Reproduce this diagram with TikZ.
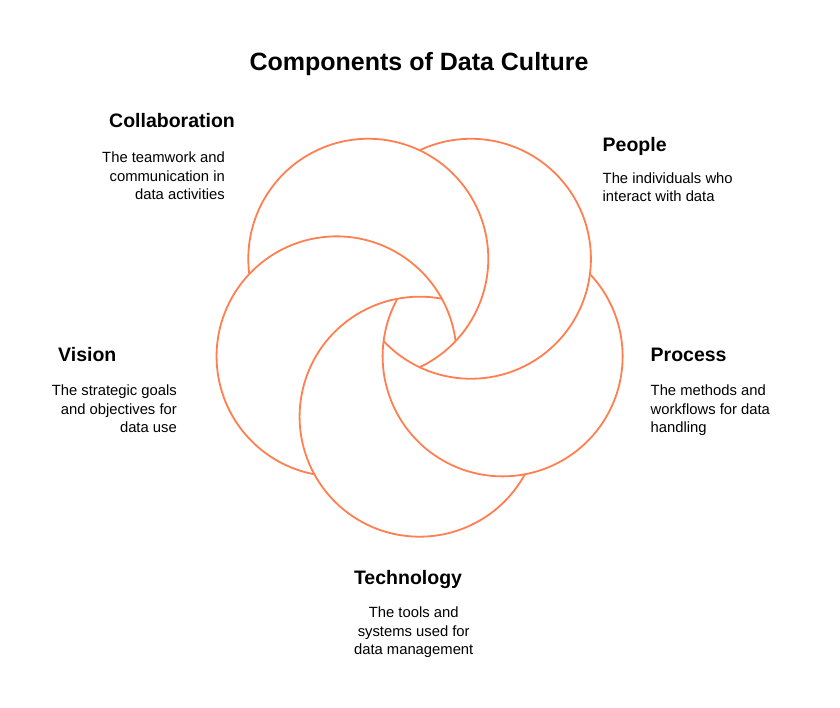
\documentclass[tikz,border=0pt]{standalone}
\usepackage{fontspec}
\setmainfont{Liberation Sans}
\usetikzlibrary{calc}
\definecolor{ringc}{RGB}{255,127,80}
\begin{document}
\begin{tikzpicture}[x=1pt,y=1pt,
  ring/.style={draw=ringc, line width=1.8pt},
  titletext/.style={font=\fontsize{25}{30}\selectfont\bfseries, inner sep=0pt},
  headtext/.style={font=\fontsize{19.5}{24}\selectfont\bfseries, inner sep=0pt},
  bodytext/.style={font=\fontsize{14.8}{18.2}\selectfont, inner sep=0pt}]
\useasboundingbox (0,0) rectangle (840,708);
\coordinate (O) at (419.6,378.6);
\coordinate (cD) at ($(O)+(-90:87.3)$);
\coordinate (cC) at ($(O)+(-18:87.3)$);
\coordinate (cB) at ($(O)+(54:87.3)$);
\coordinate (cA) at ($(O)+(126:87.3)$);
\coordinate (cE) at ($(O)+(198:87.3)$);
% woven rings: each visible arc
\draw[ring] ($(cD)+(79.3:120)$) arc[start angle=79.3, end angle=331.3, radius=120];
\draw[ring] ($(cC)+(151.3:120)$) arc[start angle=151.3, end angle=403.3, radius=120];
\draw[ring] ($(cB)+(223.3:120)$) arc[start angle=223.3, end angle=475.3, radius=120];
\draw[ring] ($(cA)+(295.3:120)$) arc[start angle=295.3, end angle=547.3, radius=120];
\draw[ring] ($(cE)+(367.3:120)$) arc[start angle=367.3, end angle=619.3, radius=120];
% title
\node[titletext, anchor=base] (title) at (419,637) {Components of Data Culture};
% Collaboration
\node[headtext, anchor=base west] (collabH) at (109,580) {Collaboration};
\node[bodytext, align=right, anchor=base east] (collabB) at (225,508.6) {The teamwork and\\communication in\\data activities};
% People
\node[headtext, anchor=base west] (peopleH) at (602.5,556) {People};
\node[bodytext, align=left, anchor=base west] (peopleB) at (602.5,506) {The individuals who\\interact with data};
% Process
\node[headtext, anchor=base west] (processH) at (650.5,346.5) {Process};
\node[bodytext, align=left, anchor=base west] (processB) at (650.5,275.6) {The methods and\\workflows for data\\handling};
% Vision
\node[headtext, anchor=base west] (visionH) at (58,346.5) {Vision};
\node[bodytext, align=right, anchor=base east] (visionB) at (177,275.6) {The strategic goals\\and objectives for\\data use};
% Technology
\node[headtext, anchor=base] (techH) at (408,123.5) {Technology};
\node[bodytext, align=center, anchor=base] (techB) at (413.7,53.6) {The tools and\\systems used for\\data management};
\end{tikzpicture}
\end{document}
